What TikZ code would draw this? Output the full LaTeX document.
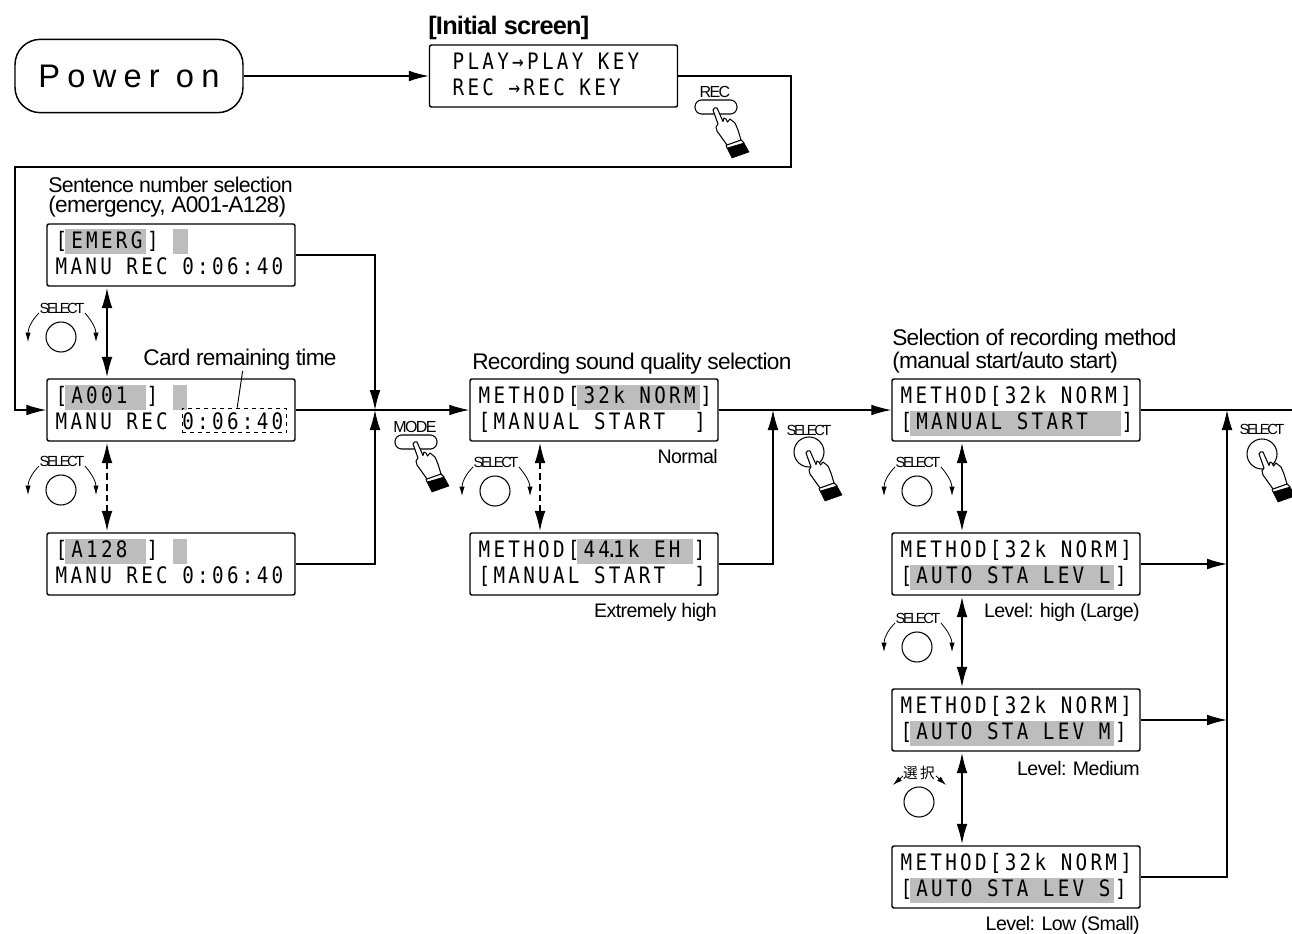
\documentclass[tikz,border=0pt]{standalone}
\usepackage{fontspec}
\usetikzlibrary{arrows.meta}
\setmainfont{Liberation Sans}
\newfontfamily\labelfont[LetterSpace=-3]{Liberation Sans}
\newfontfamily\keyfont[LetterSpace=-17]{Liberation Sans}
\newfontfamily\btnfont[LetterSpace=-10]{Liberation Sans}
\newfontfamily\powerfont[LetterSpace=22]{Liberation Sans}
\newfontfamily\lcdfont[FakeStretch=0.85,LetterSpace=14.5]{DejaVu Sans Mono}
\newfontfamily\cjkfont{Noto Sans CJK JP}
\definecolor{lcdgrey}{gray}{0.74}
\newcommand{\hl}[1]{\setlength{\fboxsep}{0pt}\kern-2pt\colorbox{lcdgrey}{\rule[-4.5pt]{0pt}{18.75pt}\kern5pt #1\kern3pt}\kern0.5pt}
\newcommand{\hlblock}{\setlength{\fboxsep}{0pt}\colorbox{lcdgrey}{\rule[-4.5pt]{0pt}{18.75pt}~}}
\newcommand{\lcdline}{\spaceskip=10.9pt\relax\rule[-4.5pt]{0pt}{18.75pt}}
\newcommand{\lcd}[2]{\lcdline #1\\\lcdline #2}
\begin{document}
\begin{tikzpicture}[
   x=0.75pt, y=-0.75pt,
   lcd/.style={draw, line width=1.1pt, rounded corners=1.5pt, minimum width=186pt, minimum height=46.5pt,
      inner xsep=6.5pt, inner ysep=0pt, text width=173pt, align=left,
      font=\lcdfont\fontsize{17}{19.5}\selectfont},
   txt/.style={inner sep=0pt, align=left, font=\labelfont\fontsize{14.7}{14.5}\selectfont},
   bigtxt/.style={inner sep=0pt, align=left, font=\labelfont\fontsize{17}{15}\selectfont},
   keytxt/.style={inner sep=0pt, font=\keyfont\fontsize{11}{11}\selectfont},
   btntxt/.style={inner sep=0pt, font=\btnfont\fontsize{12}{12}\selectfont},
   knob/.style={circle, draw, line width=0.8pt, minimum size=22.5pt, inner sep=0pt},
   keybtn/.style={draw, line width=0.8pt, rounded corners=5pt, minimum width=31.5pt, minimum height=10.5pt, inner sep=0pt},
   arrow/.style={-{Latex[length=15pt,width=8pt]}, line width=0.8pt},
   dblarrow/.style={{Latex[length=15pt,width=8pt]}-{Latex[length=15pt,width=8pt]}, line width=0.8pt, shorten >=1pt, shorten <=1pt},
   dasharrow/.style={dblarrow, dash pattern=on 5pt off 3pt},
   line/.style={-, line width=0.8pt},
   turn/.style={-{Latex[length=7pt,width=4pt]}, line width=0.6pt},
   pics/wheel/.style={code={
      \node[knob] (knob) at (0,0) {};
      \node[keytxt] (label) at (1,-29) {#1};
      \draw[turn] (-22,-24) .. controls (-30,-16) and (-33,-8) .. (-33,5);
      \draw[turn] (24,-24) .. controls (31,-16) and (35,-8) .. (35,5);
   }},
   pics/hand/.style={code={
      \draw[line width=0.8pt, fill=white, line join=round] (-2,1) -- (3,15) -- (1,18) -- (2,22) -- (12,36) -- (26,31)
         -- (23,21) -- (20,14) -- (15,10) -- (12.5,13) -- (11,10) -- (9,9) -- (8,12.5) -- (6,8) -- (2,-1)
         .. controls (1,-2) and (-2,-1) .. (-2,1) -- cycle;
      \draw[fill=black] (12,39) -- (29,34) -- (34,43) -- (17,49) -- cycle;
      \draw[line width=0.8pt] (11,36) -- (12,39) (26,31) -- (29,34);
   }}
]
\useasboundingbox (0,0) rectangle (1292,934);

% Power on and initial screen
\node[draw, line width=1.1pt, rounded corners=19pt, minimum width=171pt, minimum height=55pt, font=\powerfont\fontsize{24.5}{26}\selectfont] (power) at (129,76) {Power on};
\node[txt, anchor=west, font=\labelfont\bfseries\fontsize{19}{19}\selectfont] (inittitle) at (428,28) {[Initial screen]};
\node[lcd] (init) at (553.5,76) {\lcd{~PLAY→PLAY KEY}{~REC~→REC KEY}};
\draw[arrow] (power) -- (init);

% REC key
\node[keybtn] (recbtn) at (716,107) {};
\node[btntxt] (reclabel) at (715,92) {REC};
\pic at (715,109) {hand};

% Sentence number column
\node[bigtxt, anchor=west] (sentlabel) at (48,197) {{\fontsize{16}{15}\selectfont Sentence number selection}\\(emergency, A001-A128)};
\node[lcd] (emerg) at (171,255) {\lcd{[\hl{EMERG}]~\hlblock}{MANU REC 0:06:40}};
\node[lcd] (a001) at (171,410) {\lcd{[\hl{A001~}]~\hlblock}{MANU REC 0:06:40}};
\node[lcd] (a128) at (171,564) {\lcd{[\hl{A128~}]~\hlblock}{MANU REC 0:06:40}};
\node[bigtxt, anchor=center] (cardlabel) at (240,360) {Card remaining time};
\node[draw, dashed, line width=0.7pt, minimum width=78.5pt, minimum height=18.5pt, inner sep=0pt] (timebox) at (234.5,420.5) {};
\draw[line width=0.7pt] ([xshift=2pt]cardlabel.south) -- ([xshift=2pt]timebox.north);
\pic (sela) at (61,337) {wheel=SELECT};
\pic (selb) at (61,490) {wheel=SELECT};
\draw[dblarrow] ([xshift=-48pt]emerg.south) -- ([xshift=-48pt]a001.north);
\draw[dasharrow] ([xshift=-48pt]a001.south) -- ([xshift=-48pt]a128.north);

% Back from the initial screen
\coordinate (turna) at (791,167);
\coordinate (turnb) at (15,167);
\draw[arrow] (init.east) -| (turna) -- (turnb) |- (a001.west);

% MODE key
\coordinate (jmode) at (375,410);
\draw[arrow] (emerg.east) -| (jmode);
\draw[arrow] (a128.east) -| (jmode);
\node[keybtn] (modebtn) at (416,442) {};
\node[btntxt] (modelabel) at (415,427) {MODE};
\pic at (415,443) {hand};

% Sound quality column
\node[bigtxt, anchor=west] (qualabel) at (472,364) {Recording sound quality selection};
\node[lcd] (qa) at (594,410) {\lcd{METHOD[\hl{32k NORM}]}{[MANUAL START~~]}};
\node[lcd] (qb) at (594,564) {\lcd{METHOD[\hl{44\kern-3pt.\kern-3.5pt1k~EH\kern6.5pt}]}{[MANUAL START~~]}};
\node[txt, anchor=east] (normlabel) at (718,456) {Normal};
\node[txt, anchor=east] (highlabel) at (717,612) {Extremely high};
\pic (selc) at (495,491) {wheel=SELECT};
\draw[dasharrow] ([xshift=-40.5pt]qa.south) -- ([xshift=-40.5pt]qb.north);
\draw[arrow] (a001.east) -- (qa.west);

% SELECT key after quality
\coordinate (jqual) at (773,410);
\draw[arrow] (qb.east) -| (jqual);
\node[knob] (knobd) at (809,452) {};
\node[keytxt] (seldlabel) at (809,430) {SELECT};
\pic at (808,452) {hand};

% Recording method column
\node[bigtxt, anchor=west] (methlabel) at (892,351) {Selection of recording method\\(manual start/auto start)};
\node[lcd] (ma) at (1016,410) {\lcd{METHOD[32k NORM]}{[\hl{MANUAL START~~}]}};
\node[lcd] (mb) at (1016,564) {\lcd{METHOD[32k NORM]}{[\hl{AUTO STA LEV L}]}};
\node[lcd] (mc) at (1016,720) {\lcd{METHOD[32k NORM]}{[\hl{AUTO STA LEV M}]}};
\node[lcd] (md) at (1016,877) {\lcd{METHOD[32k NORM]}{[\hl{AUTO STA LEV S}]}};
\node[txt, anchor=east] (largelabel) at (1140,612) {Level: high (Large)};
\node[txt, anchor=east] (medlabel) at (1140,768) {Level: Medium};
\node[txt, anchor=east] (smalllabel) at (1140,925) {Level: Low (Small)};
\draw[arrow] (qa.east) -- (ma.west);
\draw[dblarrow] ([xshift=-40.5pt]ma.south) -- ([xshift=-40.5pt]mb.north);
\draw[dblarrow] ([xshift=-40.5pt]mb.south) -- ([xshift=-40.5pt]mc.north);
\draw[dblarrow] ([xshift=-40.5pt]mc.south) -- ([xshift=-40.5pt]md.north);
\pic (sele) at (917,491) {wheel=SELECT};
\pic (self) at (917,647) {wheel=SELECT};

% Wheel with the other label
\node[knob] (knobg) at (919,802) {};
\node[inner sep=0pt, font=\cjkfont\fontsize{11}{11}\selectfont] (selglabel) at (919,773) {選\,択};
\draw[turn] (903,776) -- (893,785);
\draw[turn] (936,776) -- (946,785);

% Output side
\coordinate (exit) at (1292,410);
\coordinate (jout) at (1227,410);
\coordinate (joutb) at (1227,564);
\coordinate (joutc) at (1227,720);
\draw[line] (ma.east) -- (exit);
\draw[arrow] (mb.east) -- (joutb);
\draw[arrow] (mc.east) -- (joutc);
\draw[arrow] (md.east) -| (jout);
\node[knob] (knobh) at (1262,454) {};
\node[keytxt] (selhlabel) at (1262,429) {SELECT};
\pic at (1261,453) {hand};

\end{tikzpicture}
\end{document}
